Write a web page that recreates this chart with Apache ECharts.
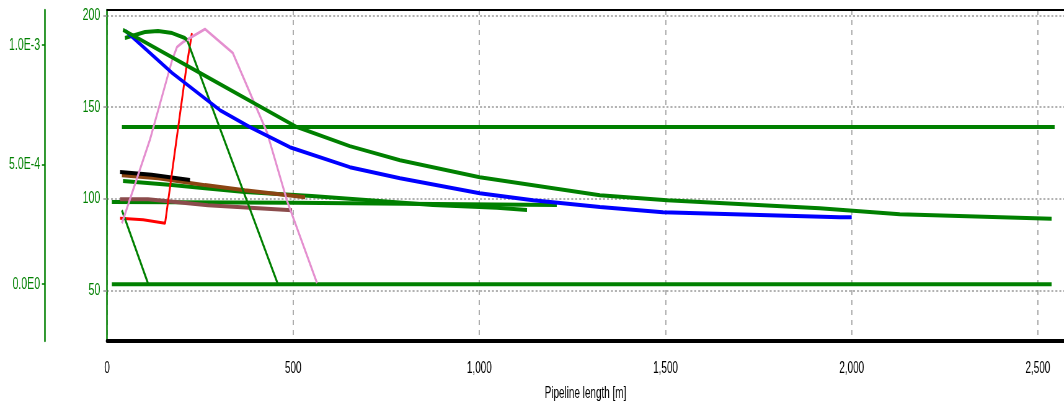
<!DOCTYPE html>
<html>
<head>
<meta charset="utf-8">
<script src="https://cdn.jsdelivr.net/npm/echarts@6/dist/echarts.min.js"></script>
<style>
  html, body { margin: 0; padding: 0; background: #fff; overflow: hidden; width: 1064px; height: 412px; }
  #chart { height: 412px; transform-origin: 0 0; }
</style>
</head>
<body>
<div id="chart"></div>
<script>
// axis ticks
const xTicks = [0, 500, 1000, 1500, 2000, 2500];
const yTicks = [50, 100, 150, 200];
const y2Ticks = [0, 0.0005, 0.001];
const y2Labels = ['0.0E0', '5.0E-4', '1.0E-3'];

// profiles along the pipeline: [length m, value]
const upperGreen = [[43, 192.1], [250, 168.6], [510, 139.1], [652, 128.7], [787, 121], [1001, 111.7], [1324, 101.9], [1504, 99.2], [1914, 94.8], [2129, 91.5], [2537, 89]];
const blueLine = [[50, 191.5], [175, 168.6], [303, 148.4], [384, 139.1], [491, 128.1], [652, 117.2], [787, 111.2], [1001, 103], [1144, 99.2], [1324, 95.4], [1493, 92.6], [1968, 89.8], [2000, 89.8]];
const humpGreen = [[48, 187.7], [102, 191], [137, 191.5], [175, 190.4], [209, 187.7], [215, 186.6]];
const steepGreen = [[215, 186.6], [459, 53.3]];
const shortGreen = [[40, 93.7], [110, 53.8]];
const pinkLine = [[40, 86.6], [115, 132], [175, 175.7], [188, 182.8], [204, 185.5], [263, 192.6], [338, 179.5], [430, 136], [483, 99.2], [564, 54]];
const redLine = [[35, 89.3], [97, 88.5], [156, 86.6], [212, 170], [228, 190.4]];
const blackLine = [[35, 114.6], [120, 113], [223, 110.2]];
const brownLine = [[40, 112.8], [137, 111.2], [263, 107.4], [370, 104.6], [532, 100.8]];
const maroonLine = [[35, 99.7], [110, 99.7], [271, 96.4], [497, 93.7]];
const greenA = [[43, 109.6], [174, 107.4], [263, 105.7], [370, 103.6], [550, 101.5], [714, 99], [875, 96.5], [1047, 95], [1128, 93.8]];
const greenB = [[13, 98.2], [500, 97.8], [800, 97.2], [1208, 96.5]];
const limitHigh = [[40, 139.1], [2545, 139.1]];
const limitLow = [[13, 53.3], [2537, 53.3]];

const GREEN = '#008000';
const FONT = "'Liberation Sans', Arial, sans-serif";
// the original picture is squeezed sideways, so draw wide and squeeze
const S = 0.62;

const dom = document.getElementById('chart');
dom.style.width = Math.round(1064 / S) + 'px';
dom.style.transform = 'scaleX(' + S + ')';

function line(data, color, width) {
    return {
        type: 'line',
        data: data,
        showSymbol: false,
        symbol: 'none',
        lineStyle: { color: color, width: width },
        silent: true
    };
}

const chart = echarts.init(dom);
chart.setOption({
    animation: false,
    grid: { left: 107 / S, right: 0, top: 10, bottom: 71, outerBoundsMode: 'none' },
    xAxis: [{
        type: 'value',
        min: 0,
        max: 2570,
        name: 'Pipeline length [m]',
        nameLocation: 'middle',
        nameGap: 45,
        nameTextStyle: { color: '#000', fontSize: 16, fontFamily: FONT },
        axisLine: { show: true, onZero: false, lineStyle: { color: '#000', width: 4 } },
        axisTick: { show: false, customValues: xTicks },
        axisLabel: {
            customValues: xTicks, color: '#000', fontSize: 16, fontFamily: FONT, margin: 20,
            formatter: v => v.toLocaleString('en-US')
        },
        splitLine: { show: true, lineStyle: { color: '#999', type: [5, 5], width: 1.6 } }
    }, {
        type: 'value',
        position: 'top',
        min: 0,
        max: 2570,
        axisLine: { show: true, onZero: false, lineStyle: { color: '#000', width: 2 } },
        axisTick: { show: false },
        axisLabel: { show: false },
        splitLine: { show: false }
    }],
    yAxis: [{
        type: 'value',
        min: 22.3,
        max: 203,
        axisLine: { show: true, onZero: false, lineStyle: { color: GREEN, width: 2.5 } },
        axisTick: { show: true, customValues: yTicks, length: 6, lineStyle: { color: '#999', width: 1.6 } },
        axisLabel: { customValues: yTicks, color: GREEN, fontSize: 17, fontFamily: FONT, margin: 11 },
        splitLine: { show: true, lineStyle: { color: '#999', type: [3.2, 3.2], width: 1.5 } }
    }, {
        type: 'value',
        position: 'left',
        offset: 62 / S,
        min: -0.0002375,
        max: 0.001146,
        axisLine: { show: true, onZero: false, lineStyle: { color: GREEN, width: 2.5 } },
        axisTick: { show: true, customValues: y2Ticks, length: 5, lineStyle: { color: GREEN, width: 1.6 } },
        axisLabel: {
            customValues: y2Ticks, color: GREEN, fontSize: 17, fontFamily: FONT, margin: 8,
            formatter: v => {
                const i = y2Ticks.findIndex(t => Math.abs(t - v) < 1e-9);
                return i >= 0 ? y2Labels[i] : '';
            }
        },
        splitLine: { show: false }
    }],
    series: [
        line(limitLow, GREEN, 4),
        line(limitHigh, GREEN, 4),
        line(greenB, GREEN, 4),
        line(maroonLine, '#8b4c4c', 4),
        line(greenA, GREEN, 4),
        line(brownLine, '#8b4513', 4),
        line(blackLine, '#000', 4),
        line(redLine, '#ff0000', 3),
        line(shortGreen, GREEN, 3),
        line(steepGreen, GREEN, 3),
        line(pinkLine, '#e48fcf', 3),
        line(humpGreen, GREEN, 4),
        line(blueLine, '#0000ff', 4),
        line(upperGreen, GREEN, 4)
    ]
});
</script>
</body>
</html>
